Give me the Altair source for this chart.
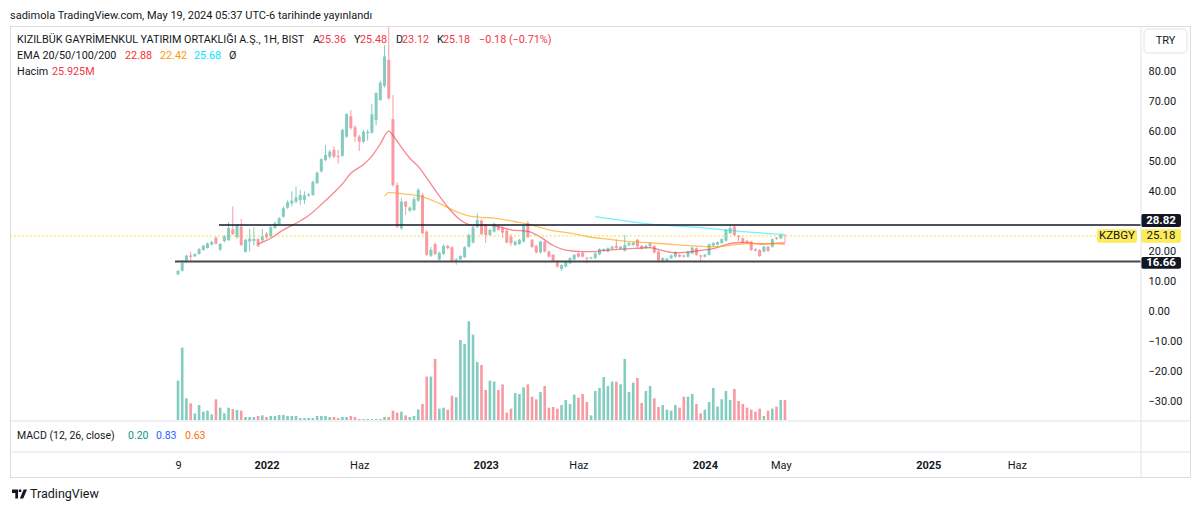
import altair as alt
import pandas as pd

# ---------------- data ----------------
first_week = "2021-08-09"

opens = [12.4, 13.6, 16.6, 18.7, 18.4, 19.2, 20.5, 21.2, 22.3, 24.6,
         20.6, 23.5, 23.8, 27.4, 24.8, 28.3, 19.9, 23.3, 23.5, 24.1,
         23.7, 25.9, 25.0, 27.8, 29.1, 31.6, 34.6, 36.0, 36.6, 37.1,
         37.2, 38.6, 38.8, 42.7, 46.6, 50.4, 51.5, 53.8, 51.8, 51.8,
         58.2, 65.0, 61.3, 58.2, 56.5, 59.3, 59.5, 63.7, 70.4, 75.0,
         83.7, 64.0, 42.1, 27.7, 36.6, 33.6, 33.8, 36.9, 38.8, 26.6,
         18.6, 22.5, 17.4, 19.2, 21.9, 21.4, 16.7, 17.4, 18.1, 21.6,
         23.0, 28.1, 30.3, 28.8, 25.5, 26.6, 28.3, 27.8, 27.0, 25.0,
         22.2, 22.5, 23.3, 29.4, 23.9, 21.9, 19.7, 23.3, 20.0, 18.9,
         16.9, 14.2, 15.0, 16.1, 17.4, 19.4, 19.6, 18.0, 17.7, 17.8,
         19.1, 20.3, 20.0, 20.9, 21.9, 21.0, 20.3, 22.1, 22.2, 23.9,
         21.9, 21.2, 21.8, 21.9, 20.0, 16.7, 17.0, 17.8, 18.3, 18.9,
         18.7, 18.3, 19.4, 21.1, 18.7, 18.3, 18.9, 22.0, 22.3, 22.8,
         23.6, 26.1, 28.3, 25.3, 24.4, 23.6, 23.3, 20.8, 20.5, 20.0,
         21.6, 21.6, 24.6, 24.4, 25.36]
highs = [13.9, 17.1, 19.0, 19.9, 19.4, 21.2, 22.3, 23.0, 23.5, 25.0,
         22.8, 25.5, 29.8, 35.0, 29.2, 30.8, 24.3, 27.6, 28.0, 24.5,
         27.5, 26.5, 28.5, 30.0, 31.5, 35.0, 37.0, 40.0, 41.6, 40.5,
         40.0, 39.5, 43.5, 46.6, 51.0, 55.4, 53.8, 55.0, 53.8, 60.8,
         66.0, 67.0, 62.0, 58.8, 60.5, 60.5, 69.0, 73.0, 76.8, 88.5,
         94.5, 72.0, 43.0, 37.8, 36.8, 35.0, 38.2, 41.0, 39.5, 27.0,
         21.5, 23.0, 20.0, 22.3, 22.2, 21.8, 17.8, 18.8, 21.8, 26.0,
         28.5, 32.7, 30.7, 29.0, 27.5, 29.6, 28.6, 28.3, 27.3, 25.8,
         23.6, 24.2, 29.0, 30.3, 24.2, 22.2, 23.6, 23.6, 20.3, 19.2,
         17.2, 15.8, 17.0, 18.1, 19.2, 19.7, 19.9, 18.3, 18.3, 19.7,
         21.1, 21.1, 21.4, 21.9, 24.0, 21.9, 25.5, 23.1, 23.2, 24.2,
         22.2, 22.2, 23.2, 22.2, 20.3, 18.1, 18.0, 19.0, 20.1, 19.2,
         19.0, 20.3, 21.6, 21.4, 19.0, 19.2, 22.7, 23.1, 23.4, 24.4,
         27.5, 29.0, 28.8, 25.6, 24.7, 23.9, 23.6, 21.1, 20.8, 21.9,
         21.9, 24.4, 24.9, 25.8, 25.48]
lows = [12.2, 13.3, 16.4, 16.6, 18.2, 19.0, 20.3, 21.0, 22.0, 22.3,
        20.2, 23.0, 23.5, 25.5, 24.2, 21.8, 19.6, 20.0, 22.0, 21.5,
        23.0, 24.2, 24.7, 27.5, 28.8, 31.2, 34.2, 35.0, 36.0, 35.5,
        35.8, 38.2, 38.5, 42.4, 46.3, 50.0, 50.8, 51.0, 49.3, 51.5,
        57.8, 60.5, 56.5, 53.4, 56.0, 56.8, 59.2, 62.0, 70.0, 74.5,
        70.5, 41.5, 27.8, 27.2, 32.2, 33.2, 33.5, 36.5, 25.8, 18.5,
        18.2, 18.8, 17.0, 18.9, 20.8, 16.4, 15.6, 17.2, 17.9, 21.3,
        22.7, 27.8, 25.5, 22.9, 25.2, 26.3, 27.0, 24.5, 22.7, 21.9,
        21.9, 22.2, 23.0, 24.5, 21.2, 19.4, 19.4, 19.7, 18.0, 16.4,
        14.7, 13.6, 14.7, 15.8, 17.1, 18.0, 18.0, 16.1, 17.5, 17.5,
        18.8, 20.0, 19.7, 20.6, 20.9, 20.7, 20.0, 21.8, 21.9, 21.4,
        20.7, 20.9, 21.0, 19.4, 16.7, 16.4, 16.5, 17.5, 18.0, 18.0,
        18.0, 18.0, 19.1, 18.6, 16.9, 18.0, 18.6, 21.7, 22.0, 22.5,
        23.3, 25.8, 25.2, 23.5, 22.7, 22.7, 20.2, 20.0, 18.2, 19.7,
        19.9, 21.3, 23.9, 24.1, 23.12]
closes = [13.6, 16.2, 18.6, 18.2, 19.2, 20.8, 21.9, 22.7, 23.2, 22.6,
          22.5, 25.0, 27.8, 25.8, 28.7, 22.2, 23.9, 24.3, 24.2, 21.9,
          25.1, 24.7, 28.0, 29.4, 31.0, 34.4, 36.4, 36.9, 38.0, 38.8,
          38.7, 39.0, 43.2, 46.2, 50.7, 52.1, 53.2, 51.5, 51.4, 60.4,
          65.7, 61.0, 58.2, 56.5, 59.8, 59.8, 65.6, 72.6, 76.1, 84.8,
          70.9, 42.1, 28.3, 36.6, 34.9, 34.6, 37.4, 40.5, 26.1, 18.9,
          20.6, 19.2, 19.6, 21.9, 21.1, 16.7, 17.4, 18.5, 21.4, 25.5,
          28.1, 30.5, 25.8, 25.5, 27.2, 29.2, 27.2, 26.3, 23.0, 22.8,
          23.3, 23.9, 28.5, 24.8, 21.5, 19.7, 23.3, 20.0, 18.3, 16.7,
          15.0, 15.5, 16.7, 17.8, 18.9, 18.3, 18.3, 17.7, 18.0, 19.4,
          20.8, 20.8, 21.1, 21.6, 21.2, 21.6, 22.2, 22.8, 22.9, 21.7,
          21.0, 21.9, 22.6, 19.7, 17.0, 17.8, 17.6, 18.7, 19.8, 18.3,
          18.3, 20.0, 21.3, 18.9, 18.3, 18.9, 22.4, 22.8, 23.1, 24.1,
          27.2, 27.8, 25.5, 24.8, 23.0, 23.0, 20.5, 20.3, 18.5, 21.6,
          20.2, 24.1, 24.2, 25.5, 25.18]
volumes_m = [51.0, 93.7, 28.1, 21.6, 8.6, 19.4, 10.8, 12.1, 7.3, 26.8,
             16.0, 8.6, 16.0, 14.3, 13.0, 12.1, 3.9, 3.9, 3.9, 5.2,
             6.0, 3.9, 5.2, 5.2, 6.5, 6.5, 5.2, 5.2, 5.2, 2.6,
             2.6, 2.6, 2.6, 5.2, 5.2, 5.2, 3.9, 3.9, 2.6, 3.9,
             3.9, 5.2, 3.9, 1.3, 1.3, 1.3, 1.3, 1.3, 1.3, 3.9,
             3.9, 12.1, 9.5, 10.8, 6.0, 3.9, 5.2, 13.8, 20.7, 56.2,
             56.2, 79.1, 14.7, 16.0, 13.4, 31.5, 29.4, 103.7, 98.5, 127.9,
             110.6, 75.2, 71.3, 38.9, 51.0, 49.7, 38.9, 46.2, 9.5, 14.7,
             35.0, 33.7, 42.3, 46.2, 30.2, 26.8, 36.3, 44.1, 16.0, 16.8,
             14.7, 19.4, 25.9, 20.7, 32.8, 28.9, 33.7, 23.3, 6.0, 37.6,
             41.5, 55.7, 44.1, 49.7, 49.7, 46.2, 79.1, 36.3, 48.4, 54.4,
             22.0, 37.6, 44.1, 28.1, 16.8, 19.4, 13.4, 12.1, 19.4, 16.0,
             30.2, 30.2, 33.7, 20.7, 8.6, 13.4, 23.3, 41.5, 17.3, 26.8,
             37.6, 25.9, 40.2, 24.6, 20.7, 16.0, 13.4, 10.8, 14.7, 5.2,
             12.1, 14.7, 17.3, 25.9, 25.925]

ema20_weeks = [19, 22, 25, 28, 31, 34, 37, 39, 41, 44, 46, 48, 50, 51, 53, 55, 57, 59, 62, 64,
               67, 70, 73, 76, 79, 83, 86, 89, 92, 96, 99, 102, 105, 109, 112, 115, 118, 121, 124, 127,
               130, 133, 136, 139, 142, 144]
ema20_values = [22.5, 24.4, 27.2, 29.4, 32.0, 35.6, 39.6, 42.5, 46.0, 48.9, 51.7, 55.8, 60.0, 58.6, 54.6, 51.0,
                48.3, 44.5, 38.5, 34.8, 30.5, 28.8, 28.8, 28.3, 27.2, 26.7, 24.8, 22.0, 20.5, 20.0,
                20.0, 20.5, 20.8, 21.1, 21.3, 20.3, 19.6, 19.8, 20.4, 21.0, 22.3, 23.0, 22.8, 22.5, 22.8, 22.88]
ema50_weeks = [49, 50, 54, 58, 62, 66, 70, 75, 80, 84, 88, 93, 97, 102, 107, 111, 116, 122, 128, 132, 135, 141, 144]
ema50_values = [38.4, 39.6, 39.1, 38.2, 36.0, 33.3, 31.6, 31.1, 29.9, 28.8, 27.2, 26.1, 25.0, 24.1, 23.3, 23.0,
                22.5, 21.9, 21.6, 22.2, 22.6, 22.6, 22.42]
ema100_weeks = [99, 111, 126, 134, 144]
ema100_values = [31.6, 29.3, 27.7, 26.6, 25.68]

resistance = 28.82
support = 16.66
resistance_start = "2021-10-16"
support_start = "2021-08-04"
last_price = 25.18
symbol = "KZBGY"

tick_dates = ["2021-08-09", "2022-01-03", "2022-06-06", "2023-01-02", "2023-06-05",
              "2024-01-01", "2024-05-06", "2025-01-06", "2025-06-02"]
tick_labels = ["9", "2022", "Haz", "2023", "Haz", "2024", "May", "2025", "Haz"]
# 30.00 sits fully under the 28.82 price box in the reference, so it is not drawn
price_ticks = [-30, -20, -10, 0, 10, 20, 40, 50, 60, 70, 80]

# ---------------- layout ----------------
W, H = 1180, 451
OX, OY = 10, 26                 # plot origin on the page
PX_PER_WEEK = 4.215
FIRST_BAR_PX = 168
Y_TOP, Y_BOTTOM = 94.96, -54.93
PX_PER_UNIT = H / (Y_TOP - Y_BOTTOM)
VOL_BASE_PX = 57
VOL_PX_PER_M = 0.772
AXIS_COL = 1131
SEP1, SEP2 = 395, 426
FONT = "Roboto"
DARK = "#131722"
UP, DOWN = "#089981", "#f23645"
UP_VOL, DOWN_VOL = "#83ccc0", "#f89aa2"
GRID = "#e0e3eb"
YELLOW = "#fdec5a"

t0 = pd.Timestamp(first_week)
n = len(opens)
df = pd.DataFrame({
    "date": [t0 + pd.Timedelta(weeks=i) for i in range(n)],
    "open": opens, "high": highs, "low": lows, "close": closes, "volume": volumes_m,
})
df["dir"] = ["up" if c >= o else "down" for o, c in zip(opens, closes)]


def ema_df(weeks, values):
    return pd.DataFrame({"date": [t0 + pd.Timedelta(weeks=w) for w in weeks], "price": values})


dom_start = t0 - pd.Timedelta(days=7 * FIRST_BAR_PX / PX_PER_WEEK)
dom_end = dom_start + pd.Timedelta(days=7 * W / PX_PER_WEEK)


def dt(ts):
    ts = pd.Timestamp(ts)
    return alt.DateTime(year=ts.year, month=ts.month, date=ts.day, hours=ts.hour, minutes=ts.minute)


label_parts = []
for d, lab in zip(tick_dates, tick_labels):
    t = pd.Timestamp(d)
    label_parts.append(f"(year(datum.value)=={t.year} && month(datum.value)=={t.month - 1}) ? '{lab}'")
label_expr = " : ".join(label_parts) + " : ''"

x_scale = alt.Scale(domain=[dt(dom_start), dt(dom_end)], nice=False, padding=0)
x_axis = alt.Axis(orient="bottom", offset=-(H - SEP2), values=[dt(d) for d in tick_dates],
                  labelExpr=label_expr, ticks=False, tickSize=0, domain=False, grid=False,
                  labelPadding=7, labelBaseline="top", labelFont=FONT, labelFontSize=11,
                  labelColor=DARK, labelFlush=False, labelOverlap=False, title=None, zindex=0,
                  labelFontWeight={"condition": {"test": "month(datum.value)==0", "value": "bold"},
                                   "value": "normal"})
X = alt.X("date:T", scale=x_scale, axis=x_axis)

price_scale = alt.Scale(domain=[Y_BOTTOM, Y_TOP], nice=False, zero=False, padding=0)
price_axis = alt.Axis(orient="right", offset=-(W - AXIS_COL), values=price_ticks, format=".2f",
                      ticks=False, tickSize=0, domain=False, grid=False, labelPadding=7,
                      labelFont=FONT, labelFontSize=11, labelColor=DARK, title=None, zindex=0,
                      labelFlush=False, labelOverlap=False)


def PY(field):
    return alt.Y(f"{field}:Q", scale=price_scale, axis=price_axis)


dir_color = alt.Color("dir:N", scale=alt.Scale(domain=["up", "down"], range=[UP, DOWN]), legend=None)
vol_color = alt.Color("dir:N", scale=alt.Scale(domain=["up", "down"], range=[UP_VOL, DOWN_VOL]), legend=None)

vol_min = -VOL_BASE_PX / VOL_PX_PER_M
vol_max = (H - VOL_BASE_PX) / VOL_PX_PER_M
volume = alt.Chart(df).mark_bar(width=2.6).encode(
    x=X,
    y=alt.Y("volume:Q", scale=alt.Scale(domain=[vol_min, vol_max], nice=False, zero=False, padding=0), axis=None),
    y2=alt.datum(0),
    color=vol_color,
)

wicks = alt.Chart(df).mark_rule(strokeWidth=1).encode(x=X, y=PY("low"), y2="high:Q", color=dir_color)
bodies = alt.Chart(df).mark_bar(width=3).encode(x=X, y=PY("open"), y2="close:Q", color=dir_color)

ema20 = alt.Chart(ema_df(ema20_weeks, ema20_values)).mark_line(
    color="#f23645", opacity=0.6, strokeWidth=1.3, interpolate="monotone").encode(x=X, y=PY("price"))
ema50 = alt.Chart(ema_df(ema50_weeks, ema50_values)).mark_line(
    color="#ff9800", opacity=0.6, strokeWidth=1.3, interpolate="monotone").encode(x=X, y=PY("price"))
ema100 = alt.Chart(ema_df(ema100_weeks, ema100_values)).mark_line(
    color="#00e5ff", opacity=0.55, strokeWidth=1.3, interpolate="monotone").encode(x=X, y=PY("price"))

res_line = alt.Chart(pd.DataFrame({"date": [pd.Timestamp(resistance_start)], "price": [resistance]})).mark_rule(
    color=DARK, strokeWidth=1.5).encode(x=X, x2=alt.value(AXIS_COL), y=PY("price"))
sup_line = alt.Chart(pd.DataFrame({"date": [pd.Timestamp(support_start)], "price": [support]})).mark_rule(
    color="#45474f", strokeWidth=2).encode(x=X, x2=alt.value(AXIS_COL), y=PY("price"))
last_line = alt.Chart(pd.DataFrame({"price": [last_price]})).mark_rule(
    color="#f0d000", strokeWidth=1, strokeDash=[1.5, 2.5]).encode(
    x=alt.value(0), x2=alt.value(1087), y=PY("price"))

# (price label, text, fill, text colour, left px, right px, vertical nudge px, half-height px)
box_rows = [
    (resistance, f"{resistance:.2f}", DARK, "white", AXIS_COL, AXIS_COL + 40, 4.5, 6.5),
    (last_price, f"{last_price:.2f}", YELLOW, DARK, AXIS_COL, AXIS_COL + 40, 0.0, 6.8),
    (support, f"{support:.2f}", DARK, "white", AXIS_COL, AXIS_COL + 40, -1.2, 5.9),
    (last_price, symbol, YELLOW, DARK, 1087, 1127, 0.0, 6.8),
]
box_layers = []
for value, label, fill, tcol, x1, x2, nudge, half_px in box_rows:
    center = value + nudge / PX_PER_UNIT
    half = half_px / PX_PER_UNIT
    bdf = pd.DataFrame({"price": [center], "lo": [center - half], "hi": [center + half]})
    box_layers.append(alt.Chart(bdf).mark_rect(color=fill, cornerRadius=2).encode(
        x=alt.value(x1), x2=alt.value(x2), y=PY("lo"), y2="hi:Q"))
    box_layers.append(alt.Chart(bdf).mark_text(
        text=label, color=tcol, font=FONT, fontSize=11.5, fontWeight="bold" if tcol == "white" else "normal",
        align="center", baseline="middle").encode(x=alt.value((x1 + x2) / 2), y=PY("price")))

price = alt.layer(wicks, bodies, ema20, ema50, ema100, res_line, sup_line, last_line, *box_layers)

one = alt.Data(values=[{}])


def txt(s, x, y, color=DARK, size=11, weight="normal", align="left"):
    return alt.Chart(one).mark_text(text=s, color=color, font=FONT, fontSize=size, fontWeight=weight,
                                    align=align, baseline="middle").encode(
        x=alt.value(x - OX), y=alt.value(y - OY))


RED = "#f23645"
texts = [
    txt("sadimola TradingView.com, May 19, 2024 05:37 UTC-6 tarihinde yayınlandı", 10, 15.5, size=11),
    txt("KIZILBÜK GAYRİMENKUL YATIRIM ORTAKLIĞI A.Ş., 1H, BIST", 17, 40, size=10.8),
    txt("A", 313, 40, size=10.8), txt("25.36", 319, 40, RED, 10.8),
    txt("Y", 354, 40, size=10.8), txt("25.48", 360, 40, RED, 10.8),
    txt("D", 396, 40, size=10.8), txt("23.12", 402, 40, RED, 10.8),
    txt("K", 437, 40, size=10.8), txt("25.18", 443, 40, RED, 10.8),
    txt("−0.18 (−0.71%)", 479, 40, RED, 10.8),
    txt("EMA 20/50/100/200", 17, 56, size=10.8),
    txt("22.88", 125, 56, "#ff2d2d", 10.8), txt("22.42", 160, 56, "#ff9800", 10.8),
    txt("25.68", 194, 56, "#00e5ff", 10.8), txt("Ø", 229, 56, size=10.8),
    txt("Hacim", 17, 72, size=10.8), txt("25.925M", 52, 72, RED, 10.8),
    txt("MACD (12, 26, close)", 17, 436, size=10.5),
    txt("0.20", 128, 436, "#089981", 10.5), txt("0.83", 156, 436, "#2962ff", 10.5),
    txt("0.63", 185, 436, "#ff6d00", 10.5),
    txt("TradingView", 30, 494, size=12.5),
]

logo_path = ("M-1,-0.6 H-0.2 V0.6 H-0.56 V-0.12 H-1 Z "
             "M-0.1,-0.6 H0.24 V-0.26 H-0.1 Z "
             "M0.55,-0.6 H1 L0.5,0.6 H0.05 Z")
logo = alt.Chart(one).mark_point(shape=logo_path, filled=True, size=225, color=DARK, opacity=1,
                                 strokeWidth=0).encode(x=alt.value(19.5 - OX), y=alt.value(494 - OY))

sep1 = alt.Chart(one).mark_rule(color=GRID, strokeWidth=1).encode(
    x=alt.value(0), x2=alt.value(W), y=alt.value(SEP1))
sep2 = alt.Chart(one).mark_rule(color=GRID, strokeWidth=1).encode(
    x=alt.value(0), x2=alt.value(W), y=alt.value(SEP2))
sep3 = alt.Chart(one).mark_rule(color=GRID, strokeWidth=1).encode(
    x=alt.value(AXIS_COL), y=alt.value(0), y2=alt.value(H))

try_box = alt.Chart(one).mark_rect(fill="white", stroke=GRID, strokeWidth=1, cornerRadius=4).encode(
    x=alt.value(1144 - OX), x2=alt.value(1187 - OX), y=alt.value(29 - OY), y2=alt.value(53 - OY))
try_txt = txt("TRY", 1165.5, 41, size=11, align="center")

chart = alt.layer(volume, price, sep1, sep2, sep3, try_box, try_txt, logo, *texts).resolve_scale(
    y="independent"
).properties(
    width=W, height=H,
    autosize=alt.AutoSizeParams(type="none"),
    padding={"left": 2, "top": 18, "right": 2, "bottom": 34},
).configure_view(stroke=GRID, strokeWidth=1).configure(background="white")

chart.save("out.html", embed_options={"renderer": "svg", "actions": False})
